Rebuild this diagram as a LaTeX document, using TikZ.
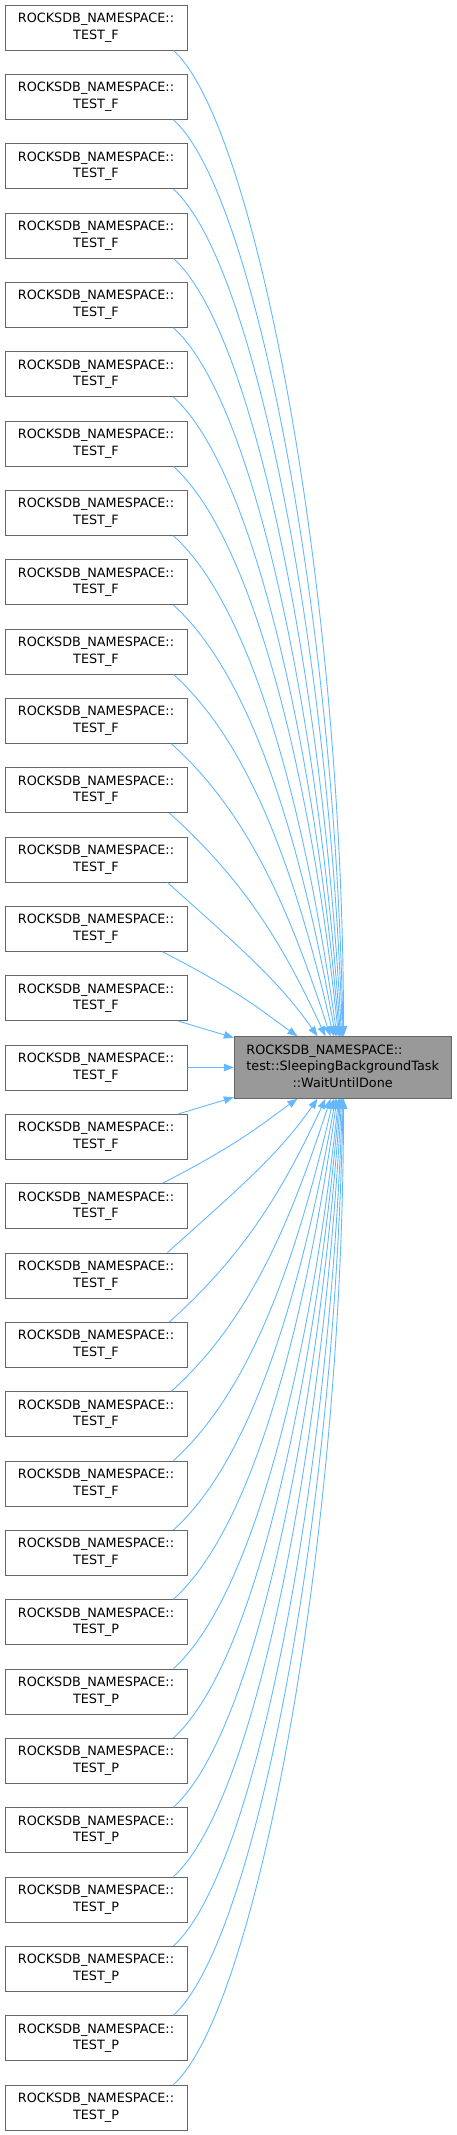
\documentclass[tikz,border=0pt]{standalone}
\usepackage{fontspec}
\setmainfont{DejaVu Sans}
\usetikzlibrary{arrows.meta,calc}
\definecolor{edgeblue}{HTML}{63B8FF}
\definecolor{nodeborder}{HTML}{666666}
\definecolor{targetfill}{HTML}{999999}
\begin{document}
\begin{tikzpicture}[
  caller/.style={draw=nodeborder, line width=0.9pt, fill=white, minimum width=182pt, minimum height=45pt, inner sep=0pt, align=center, font=\fontsize{12.8}{16.7}\selectfont},
  target/.style={draw=nodeborder, line width=0.9pt, fill=targetfill, minimum width=216.7pt, minimum height=61.6pt, inner sep=0pt, font=\fontsize{12.8}{16.7}\selectfont},
  edge/.style={draw=edgeblue, line width=0.9pt, -{Triangle[length=10pt,width=7.5pt]}}
]
\useasboundingbox (0pt,0pt) rectangle (456pt,-2135pt);
\node[target] (tgt) at (342.65pt,-1067.5pt) {\begin{tabular}{@{}l@{}}ROCKSDB\_NAMESPACE::\\test::SleepingBackgroundTask\\\multicolumn{1}{@{}c@{}}{::WaitUntilDone}\end{tabular}};
\foreach \k in {0,...,30}{
  \pgfmathsetmacro\yc{27.5+69.3333*\k}
  \ifnum\k<23 \def\lab{TEST\_F}\else\def\lab{TEST\_P}\fi
  \node[caller] (n\k) at (96pt,-\yc pt) {ROCKSDB\_NAMESPACE::\\\lab};
}
\foreach \k in {0,...,30}{
  \pgfmathtruncatemacro\dd{abs(\k-15)}
  \pgfmathsetmacro\yc{27.5+69.3333*\k}
  \pgfmathsetmacro\sx{{0,178,162,167,169,171,173,173,173,173,173,173,173,173,173,173}[\dd]}
  \pgfmathsetmacro\tx{{0,234,298,318,326,331,334,336,337.5,339,340,341,342,343,343.5,344}[\dd]}
  \pgfmathsetmacro\ang{{0,0,35,55,65,72,77,80,82,84,85,86,87,88,89,90}[\dd]}
  \pgfmathsetmacro\ts{\dd==2 ? 27 : 42}
  \pgfmathsetmacro\so{\sx-187}
  \pgfmathsetmacro\tof{\tx-234.35}
  \pgfmathsetmacro\dx{\tx-\sx}
  \pgfmathsetmacro\ax{0.65*\dx*cos(\ts)}
  \pgfmathsetmacro\ay{0.65*\dx*sin(\ts)}
  \ifnum\dd=0
    \draw[edge] (n\k.east) -- (tgt.west);
  \else\ifnum\dd=1
    \ifnum\k<15
      \draw[edge] ([xshift=-9pt]n\k.south east) -- ([yshift=-1.5pt]tgt.north west);
    \else
      \draw[edge] ([xshift=-9pt]n\k.north east) -- ([yshift=1.5pt]tgt.south west);
    \fi
  \else
    \ifnum\k<15
      \pgfmathsetmacro\dy{1036.7-\yc-22.5}
      \pgfmathsetmacro\bx{0.45*\dy*cos(\ang)}
      \pgfmathsetmacro\by{0.45*\dy*sin(\ang)}
      \draw[edge] ([xshift=\so pt]n\k.south east) .. controls +(\ax pt,-\ay pt) and +(-\bx pt,\by pt) .. ([xshift=\tof pt]tgt.north west);
    \else
      \pgfmathsetmacro\dy{\yc-22.5-1098.3}
      \pgfmathsetmacro\bx{0.45*\dy*cos(\ang)}
      \pgfmathsetmacro\by{0.45*\dy*sin(\ang)}
      \draw[edge] ([xshift=\so pt]n\k.north east) .. controls +(\ax pt,\ay pt) and +(-\bx pt,-\by pt) .. ([xshift=\tof pt]tgt.south west);
    \fi
  \fi\fi
}
\end{tikzpicture}
\end{document}
